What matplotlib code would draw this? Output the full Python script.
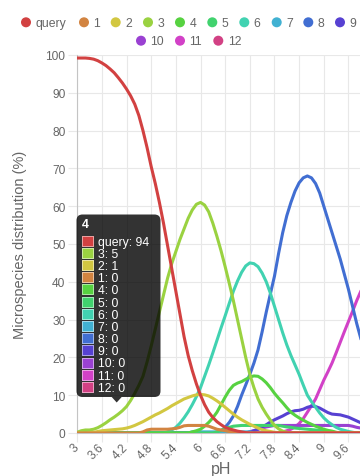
import colorsys
import matplotlib
matplotlib.use("Agg")
import matplotlib.pyplot as plt
from matplotlib.patches import Circle, FancyBboxPatch, Polygon, Rectangle

plt.rcParams['font.family'] = ['Liberation Sans', 'DejaVu Sans']

# ---------------- data ----------------
ph = [round(3.0 + 0.1 * i, 1) for i in range(71)]   # category axis: pH 3.0 ... 10.0

series_names = ['query', '1', '2', '3', '4', '5', '6', '7', '8', '9', '10', '11', '12']

query = [99.2, 99.2, 99.2, 99.1, 98.9, 98.5, 97.9, 97.2, 96.3, 95.3,
         94, 92.6, 91, 89.2, 87, 84, 80, 75.5, 70.5, 66,
         61, 55.5, 49.5, 43.5, 37.5, 31.5, 25.5, 20.5, 16.5, 13,
         10, 7.5, 5.5, 4.1, 3, 2.2, 1.5, 1.1, 0.8, 0.5,
         0.3, 0.1] + [0] * 29
s1 = [0] * 16 + [0.3, 0.8, 1, 1, 1, 1, 1, 1.1, 1.2, 1.5, 1.9, 2, 2, 2, 2, 2,
                 1.8, 1.4, 1, 0.8, 0.6, 0.4, 0.3, 0.1] + [0] * 31
s2 = [0, 0, 0, 0.1, 0.2, 0.4, 0.6, 0.7, 0.8, 0.9,
      1, 1.1, 1.3, 1.6, 2, 2.5, 3, 3.6, 4.2, 4.8,
      5.3, 5.9, 6.5, 7.2, 7.8, 8.4, 9, 9.4, 9.8, 10.1,
      10.2, 10.1, 9.8, 9.2, 8.5, 7.7, 6.8, 5.9, 5, 4.2,
      3.5, 2.9, 2.3, 1.8, 1.3, 0.9, 0.6, 0.4, 0.2, 0.1] + [0] * 21
s3 = [0.2, 0.6, 0.8, 0.8, 1, 1.4, 2, 2.7, 3.5, 4.2,
      5, 5.9, 7, 8.6, 10.5, 12.6, 15, 18.8, 23, 27.5,
      32, 36.5, 41, 44.8, 48, 51.2, 54, 56.8, 59, 60.5,
      61, 60.3, 58.5, 55.5, 52, 48.2, 44, 39.6, 35, 30,
      25, 20, 15.5, 12, 9, 6.8, 5, 3.4, 2, 1.1,
      0.5, 0.2] + [0] * 19
s4 = [0] * 28 + [0.3, 0.6, 1, 1.8, 2.8, 4, 5.5, 7.5, 9.5, 11.3,
                 12.6, 13.2, 13.6, 14.2, 14.8, 15.1, 15, 14.3, 13.3, 12,
                 10.5, 9.2, 8, 6.7, 5.5, 4.7, 4, 3.4, 2.8, 2.3,
                 1.8, 1.4, 1, 0.7, 0.5, 0.2] + [0] * 7
s5 = [0] * 34 + [0.3, 0.7, 1.2, 1.5, 1.8, 1.9] + [2] * 10 + \
     [1.8, 1.6, 1.5, 1.3, 1.2, 1.1, 1, 0.9, 0.8, 0.7, 0.6, 0.4, 0.3, 0.1] + [0] * 7
s6 = [0] * 22 + [0.3, 0.8, 1.5, 2.6, 4, 5.6, 7.5, 9.6, 12, 15,
                 18, 21.2, 24.5, 27.8, 31, 34.3, 37.5, 40.2, 42.5, 44.2,
                 45, 44.8, 44, 42.3, 40, 37, 33.5, 30, 26.5, 23.3,
                 20.5, 18, 15.5, 12.7, 10, 8.3, 6.8, 5.3, 4, 3,
                 2.2, 1.5, 1, 0.7, 0.4, 0.2] + [0] * 3
s7 = [0] * 28 + [0.3] * 15 + [0] * 28
s8 = [0] * 35 + [0.5, 1.5, 2.8, 4.5, 7, 10, 12.7, 15.5, 18.5, 22,
                 26.8, 32, 36.8, 41.5, 47.5, 53, 57.5, 61, 64, 66.2,
                 67.5, 68, 67.5, 66, 63.5, 60, 56.5, 53, 49.5, 46,
                 42, 38, 33.5, 29, 25, 21]
s9 = [0] * 42 + [0.3, 0.6, 1, 1.6, 2.2, 2.9, 3.5, 4, 4.5, 5.1,
                 5.6, 5.9, 6, 6.3, 6.8, 7.1, 7, 6.6, 6, 5.4,
                 5, 4.9, 4.8, 4.5, 4.2, 3.7, 3.2, 2.7, 2.3]
s10 = [0] * 42 + [0.3, 0.6, 1, 1.3, 1.6, 1.8] + [2] * 19 + [1.8, 1.5, 1.3, 1.2]
s11 = [0] * 50 + [0.3, 0.6, 1, 1.6, 2.5, 3.8, 5.5, 7.2, 9, 11.5,
                  14, 16.2, 18.5, 21.2, 24, 26.8, 29.5, 32.2, 35, 37.5, 40]
s12 = [0] * 71

series_values = [query, s1, s2, s3, s4, s5, s6, s7, s8, s9, s10, s11, s12]

xtick_values = [3, 3.6, 4.2, 4.8, 5.4, 6, 6.6, 7.2, 7.8, 8.4, 9, 9.6]
xtick_labels = ['3', '3.6', '4.2', '4.8', '5.4', '6', '6.6', '7.2', '7.8', '8.4', '9', '9.6']
ytick_values = [0, 10, 20, 30, 40, 50, 60, 70, 80, 90, 100]

tooltip_ph = 4.0

# ---------------- style ----------------
W, H = 360, 477
colors = []
for i in range(len(series_names)):
    r, g, b = colorsys.hls_to_rgb(i / 13.0, 0.54, 0.62)
    colors.append((r, g, b))

fig = plt.figure(figsize=(W / 100, H / 100), dpi=100)

x0, x1 = 77.2, 364.9
y_top, y_bot = 56, 434
ax = fig.add_axes([x0 / W, (H - y_bot) / H, (x1 - x0) / W, (y_bot - y_top) / H])

n = len(series_names)
for i in range(n - 1, -1, -1):
    ax.plot(ph, series_values[i], color=colors[i], lw=2.2, solid_joinstyle='round',
            solid_capstyle='round', zorder=3 + (n - i))

ax.set_xlim(3, 10)
ax.set_ylim(0, 100)
ax.set_xticks(xtick_values)
ax.set_xticklabels(xtick_labels, rotation=45, ha='right', va='center', rotation_mode='anchor')
ax.set_yticks(ytick_values)
ax.set_yticklabels([str(v) for v in ytick_values])
ax.grid(True, color='#e8e8e8', lw=0.8)
ax.set_axisbelow(True)
for s in ['top', 'right']:
    ax.spines[s].set_visible(False)
for s in ['left', 'bottom']:
    ax.spines[s].set_color('#c4c4c4')
    ax.spines[s].set_linewidth(0.8)
ax.tick_params(axis='both', length=6.5, width=0.8, color='#e8e8e8', labelcolor='#666666',
               labelsize=8.6)
ax.tick_params(axis='y', pad=2)
ax.tick_params(axis='x', pad=2.5)
ax.patch.set_alpha(0)

# ---------------- overlay (legend, labels, tooltip) ----------------
ov = fig.add_axes([0, 0, 1, 1], zorder=10)
ov.set_xlim(0, W)
ov.set_ylim(H, 0)
ov.axis('off')
ov.patch.set_alpha(0)

ov.text(20, 245, 'Microspecies distribution (%)', rotation=90, ha='center', va='center',
        fontsize=10.5, color='#666666')
ov.text(221, 470, 'pH', ha='center', va='center', fontsize=11.5, color='#666666')

# legend
leg_pos = [(26, 23.3), (84, 23.3), (115.7, 23.3), (148, 23.3), (180, 23.3), (212.3, 23.3),
           (244.3, 23.3), (276.7, 23.3), (308.3, 23.3), (340, 23.3),
           (141, 41.7), (180, 41.7), (218.3, 41.7)]
for i, (cx, cy) in enumerate(leg_pos):
    ov.add_patch(Circle((cx, cy), 5, facecolor=colors[i], edgecolor='none'))
    ov.text(cx + 9.5, cy + 0.5, series_names[i], ha='left', va='center', fontsize=8.8,
            color='#666666')

# tooltip
idx = ph.index(tooltip_ph)
items = [(series_names[i], series_values[i][idx], colors[i]) for i in range(n)]
items_sorted = sorted(items, key=lambda t: -round(t[1]))
bx0, by0, bx1, by1 = 76.5, 215.5, 160.5, 398
ov.add_patch(FancyBboxPatch((bx0, by0), bx1 - bx0, by1 - by0,
                            boxstyle='round,pad=0,rounding_size=6',
                            facecolor=(0, 0, 0, 0.8), edgecolor='none'))
ov.add_patch(Polygon([(111.7, by1), (116.7, 403.5), (121.7, by1)], closed=True,
                     facecolor=(0, 0, 0, 0.8), edgecolor='none'))
ov.text(82, 225.5, ('%g' % tooltip_ph), ha='left', va='center', fontsize=8.8,
        fontweight='bold', color='white')
for k, (name, val, col) in enumerate(items_sorted):
    cy = 242.3 + 12.17 * k
    light = tuple(0.5 * c + 0.5 for c in col)
    ov.add_patch(Rectangle((82, cy - 5.5), 12, 11, facecolor=light, edgecolor='none'))
    ov.add_patch(Rectangle((83, cy - 4.5), 10, 9, facecolor=col, edgecolor='none'))
    ov.text(98, cy + 0.5, '%s: %d' % (name, round(val)), ha='left', va='center',
            fontsize=8.8, color='white')

fig.savefig('out.png', dpi=100)
